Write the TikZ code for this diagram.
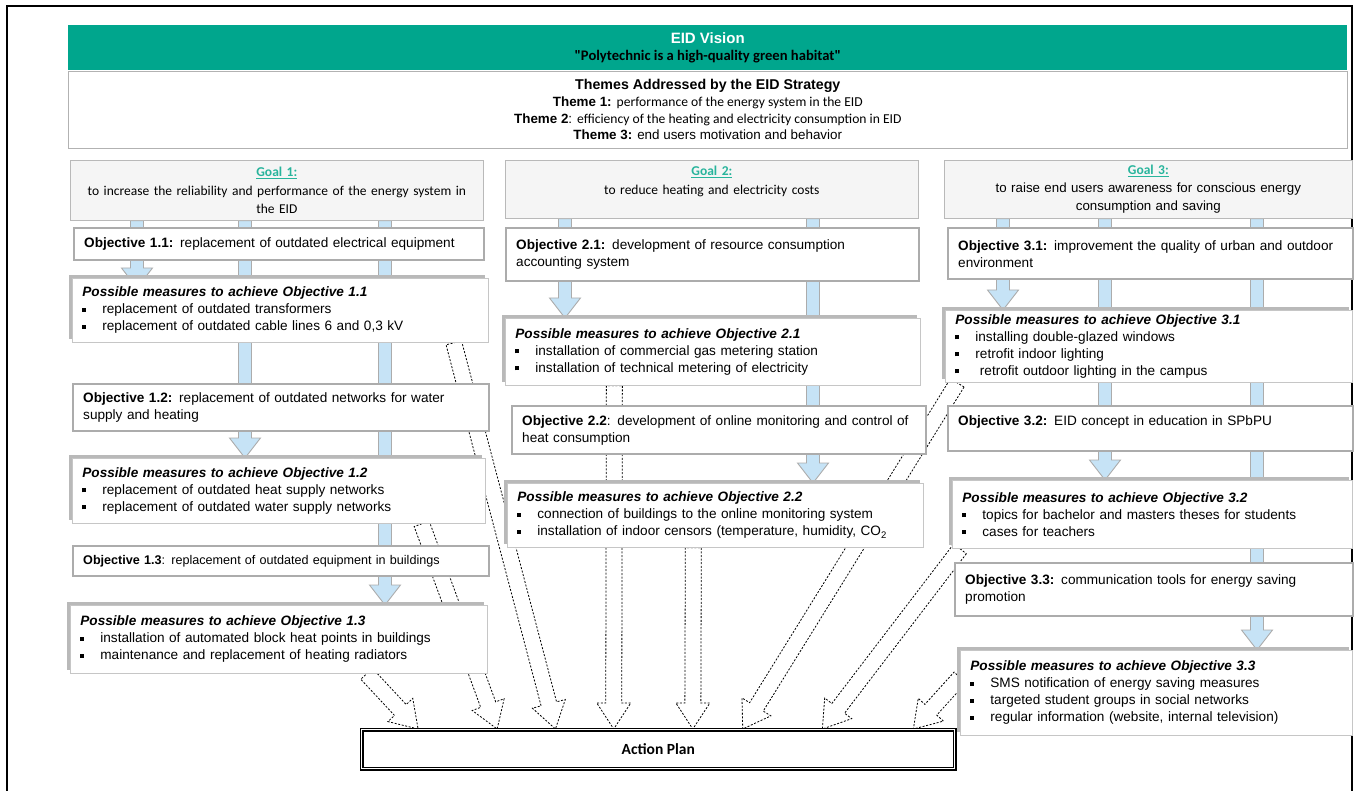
\documentclass[tikz,border=0pt]{standalone}
\usepackage{fontspec}
\setmainfont{Liberation Sans}
\newfontfamily\calfont{Carlito}
\usetikzlibrary{calc}
\usetikzlibrary{shadows}

\definecolor{eidgreen}{RGB}{0,166,141}
\definecolor{goalteal}{RGB}{40,180,156}
\definecolor{barblue}{RGB}{198,227,246}

\pgfdeclarelayer{background}
\pgfsetlayers{background,main}

\newcommand{\pmitem}{\makebox[20pt][l]{\rule[0.3ex]{3.8pt}{3.8pt}}}
% #1 style, #2 half shaft, #3 half head, #4 head length, #5 from, #6 to
\newcommand{\blockarrow}[6]{%
  \coordinate (ba-s) at (#5);
  \coordinate (ba-e) at (#6);
  \coordinate (ba-n) at ($(ba-e)!#4!(ba-s)$);
  \draw[#1] ($(ba-s)!#2!90:(ba-e)$) -- ($(ba-n)!#2!90:(ba-e)$)
    -- ($(ba-n)!#3!90:(ba-e)$) -- (ba-e) -- ($(ba-n)!#3!-90:(ba-e)$)
    -- ($(ba-n)!#2!-90:(ba-e)$) -- ($(ba-s)!#2!-90:(ba-e)$) -- cycle;
}
\newcommand{\bluearrow}[2]{\blockarrow{bluebar}{6.5pt}{15.5pt}{20pt}{#1}{#2}}
\newcommand{\planarrow}[2]{\blockarrow{planlink}{8pt}{17pt}{26pt}{#1}{#2}}

\begin{document}
\begin{tikzpicture}[x=1pt, y=-1pt,
  every node/.style={inner sep=0pt},
  basebox/.style={anchor=north west, fill=white, inner xsep=10pt, align=left,
    font=\fontsize{13.6}{17}\selectfont},
  objbox/.style={basebox, draw=gray!65, line width=2.4pt},
  pmbox/.style={basebox, draw=gray!45, line width=0.8pt,
    general shadow={fill=gray!55, shadow xshift=-3.5pt, shadow yshift=3.5pt}},
  goalbox/.style={anchor=north west, fill=gray!8, draw=gray!55, line width=0.7pt,
    align=center, font=\calfont\fontsize{13.5}{18.5}\selectfont},
  bluebar/.style={fill=barblue, draw=gray!65, line width=0.9pt},
  planlink/.style={draw=black, line width=0.8pt, dash pattern=on 2pt off 1.6pt},
]
\useasboundingbox (0,0) rectangle (1356,791);
\draw[line width=1.2pt] (7,791) -- (7,6) -- (1352,6) -- (1352,791);

% vision and themes
\node[anchor=north west, fill=eidgreen, minimum width=1279pt, minimum height=45pt,
  align=center, font=\fontsize{14.6}{17.5}\selectfont] (vision) at (68,25)
  {\textcolor{white}{\bfseries\fontsize{15}{17.5}\selectfont EID Vision}\\
   {\calfont\bfseries "Polytechnic is a high-quality green habitat"}};
\node[anchor=north west, draw=gray!60, line width=0.6pt, fill=white,
  minimum width=1279pt, minimum height=77pt, align=center,
  font=\fontsize{13.4}{16.7}\selectfont] (themes) at (68,71)
  {{\bfseries\fontsize{14.2}{16.7}\selectfont Themes Addressed by the EID Strategy}\\
   \textbf{Theme 1:} {\calfont\fontsize{13.6}{16.7}\selectfont performance of the energy system in the EID}\\
   \textbf{Theme 2}: {\calfont\fontsize{13.6}{16.7}\selectfont efficiency of the heating and electricity consumption in EID}\\
   \textbf{Theme 3:} end users motivation and behavior};

% goals
\node[goalbox, minimum width=413pt, minimum height=60pt, text width=400pt] (goal1) at (70,160)
  {\textcolor{goalteal}{\bfseries\underline{Goal 1:}}\\
   to increase the reliability and performance of the energy system in\\ the EID};
\node[goalbox, minimum width=413pt, minimum height=58pt, text width=400pt] (goal2) at (505,160)
  {\textcolor{goalteal}{\bfseries\underline{Goal 2:}}\\
   to reduce heating and electricity costs\\ \mbox{}};
\node[goalbox, minimum width=408pt, minimum height=58pt, text width=395pt,
  font=\fontsize{13.3}{18}\selectfont] (goal3) at (944,160)
  {\textcolor{goalteal}{\calfont\bfseries\fontsize{13.5}{18}\selectfont\underline{Goal 3:}}\\
   to raise end users awareness for conscious energy\\ consumption and saving};

% column 1
\node[objbox, minimum width=410pt, minimum height=32pt, text width=390pt] (obj11) at (73,227)
  {\textbf{Objective 1.1:} replacement of outdated electrical equipment};
\node[pmbox, minimum width=416pt, minimum height=64pt, text width=396pt] (pm11) at (72,278)
  {\textbf{\textit{Possible measures to achieve Objective 1.1}}\\
   \pmitem replacement of outdated transformers\\
   \pmitem replacement of outdated cable lines 6 and 0,3 kV};
\node[objbox, minimum width=416pt, minimum height=47pt, text width=396pt] (obj12) at (72,383)
  {\textbf{Objective 1.2:} replacement of outdated networks for water\\ supply and heating};
\node[pmbox, minimum width=413pt, minimum height=65pt, text width=393pt] (pm12) at (72,458)
  {\textbf{\textit{Possible measures to achieve Objective 1.2}}\\
   \pmitem replacement of outdated heat supply networks\\
   \pmitem replacement of outdated water supply networks};
\node[objbox, minimum width=416pt, minimum height=30pt, text width=396pt,
  font=\fontsize{12.6}{14}\selectfont] (obj13) at (72,545)
  {\textbf{Objective 1.3}: replacement of outdated equipment in buildings};
\node[pmbox, minimum width=417pt, minimum height=68pt, text width=397pt] (pm13) at (70,605)
  {\textbf{\textit{Possible measures to achieve Objective 1.3}}\\
   \pmitem installation of automated block heat points in buildings\\
   \pmitem maintenance and replacement of heating radiators};

% column 2
\node[objbox, minimum width=413pt, minimum height=53pt, text width=393pt] (obj21) at (505,227)
  {\textbf{Objective 2.1:} development of resource consumption\\ accounting system};
\node[pmbox, minimum width=415pt, minimum height=67pt, text width=395pt] (pm21) at (505,318)
  {\textbf{\textit{Possible measures to achieve Objective 2.1}}\\
   \pmitem installation of commercial gas metering station\\
   \pmitem installation of technical metering of electricity};
\node[objbox, minimum width=414pt, minimum height=48pt, text width=394pt] (obj22) at (511,405)
  {\textbf{Objective 2.2}: development of online monitoring and control of\\ heat consumption};
\node[pmbox, minimum width=416pt, minimum height=64pt, text width=396pt] (pm22) at (507,483)
  {\textbf{\textit{Possible measures to achieve Objective 2.2}}\\
   \pmitem connection of buildings to the online monitoring system\\
   \pmitem installation of indoor censors (temperature, humidity, CO\textsubscript{2}};

% column 3
\node[objbox, minimum width=405pt, minimum height=51pt, text width=385pt] (obj31) at (947,227)
  {\textbf{Objective 3.1:} improvement the quality of urban and outdoor\\ environment};
\node[pmbox, minimum width=407pt, minimum height=72pt, text width=387pt] (pm31) at (945,310)
  {\textbf{\textit{Possible measures to achieve Objective 3.1}}\\
   \pmitem installing double-glazed windows\\
   \pmitem retrofit indoor lighting\\
   \pmitem\ retrofit outdoor lighting in the campus};
\node[objbox, minimum width=405pt, minimum height=45pt, text width=385pt] (obj32) at (947,405)
  {\textbf{Objective 3.2:} EID concept in education in SPbPU\\ \mbox{}};
\node[pmbox, minimum width=400pt, minimum height=68pt, text width=380pt] (pm32) at (952,480)
  {\textbf{\textit{Possible measures to achieve Objective 3.2}}\\
   \pmitem topics for bachelor and masters theses for students\\
   \pmitem cases for teachers};
\node[objbox, minimum width=398pt, minimum height=53pt, text width=378pt] (obj33) at (954,562)
  {\textbf{Objective 3.3:} communication tools for energy saving\\ promotion};
\node[pmbox, minimum width=392pt, minimum height=85pt, text width=372pt] (pm33) at (960,650)
  {\textbf{\textit{Possible measures to achieve Objective 3.3}}\\
   \pmitem SMS notification of energy saving measures\\
   \pmitem targeted student groups in social networks\\
   \pmitem regular information (website, internal television)};

% action plan
\node[anchor=north west, draw=black, double=white, double distance=1.3pt, line width=1.6pt,
  fill=white, minimum width=593pt, minimum height=39pt,
  font=\calfont\bfseries\fontsize{15.5}{17}\selectfont] (plan) at (361,729) {Action Plan};

% bar positions
\coordinate (c1a) at (137,0);
\coordinate (c1b) at (245,0);
\coordinate (c1c) at (385,0);
\coordinate (c2a) at (565,0);
\coordinate (c2b) at (813,0);
\coordinate (c3a) at (1003,0);
\coordinate (c3b) at (1105,0);
\coordinate (c3c) at (1257,0);

\begin{pgfonlayer}{background}
  \bluearrow{goal1.south -| c1a}{$(pm11.north -| c1a)+(0,10)$}
  \bluearrow{goal1.south -| c1b}{pm12.north -| c1b}
  \bluearrow{goal1.south -| c1c}{pm13.north -| c1c}
  \bluearrow{goal2.south -| c2a}{pm21.north -| c2a}
  \bluearrow{goal2.south -| c2b}{pm22.north -| c2b}
  \bluearrow{goal3.south -| c3a}{pm31.north -| c3a}
  \bluearrow{goal3.south -| c3b}{pm32.north -| c3b}
  \bluearrow{goal3.south -| c3c}{pm33.north -| c3c}
  % links to the action plan
  \planarrow{$(pm13.south west)!0.71!(pm13.south east)$}{$(plan.north west)!0.096!(plan.north east)$}
  \planarrow{$(pm12.south west)!0.845!(pm12.south east)$}{$(plan.north west)!0.229!(plan.north east)$}
  \planarrow{$(pm11.south west)!0.916!(pm11.south east)$}{$(plan.north west)!0.327!(plan.north east)$}
  \planarrow{$(pm21.south west)!0.263!(pm21.south east)$}{$(plan.north west)!0.425!(plan.north east)$}
  \planarrow{$(pm22.south west)!0.447!(pm22.south east)$}{$(plan.north west)!0.558!(plan.north east)$}
  \planarrow{$(pm31.south west)!0.03!(pm31.south east)$}{$(plan.north west)!0.642!(plan.north east)$}
  \planarrow{$(pm32.south west)!0.02!(pm32.south east)$}{$(plan.north west)!0.776!(plan.north east)$}
  \planarrow{$(pm33.north west)!0.32!(pm33.south west)$}{$(plan.north west)!0.929!(plan.north east)$}
\end{pgfonlayer}
\end{tikzpicture}
\end{document}
